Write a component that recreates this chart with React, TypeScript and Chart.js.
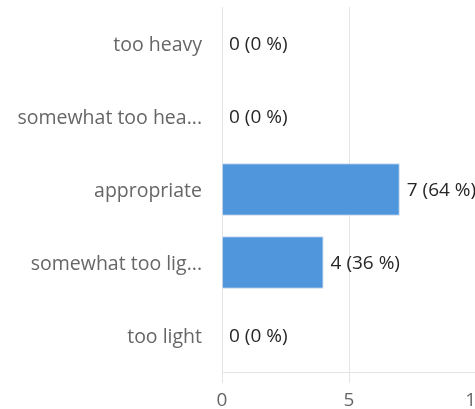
import React, { useEffect, useRef } from "react";
import { Chart, registerables } from "chart.js";

Chart.register(...registerables);

const categories = ["too heavy", "somewhat too hea...", "appropriate", "somewhat too lig...", "too light"];
const counts = [0, 0, 7, 4, 0];
const xTicks = [0, 5, 10];

const FONT = "'Open Sans', sans-serif";

const valueLabels = {
  id: "valueLabels",
  afterDatasetsDraw(chart: any) {
    const ctx = chart.ctx;
    const meta = chart.getDatasetMeta(0);
    const data = chart.data.datasets[0].data as number[];
    const total = data.reduce((a, b) => a + b, 0);
    ctx.save();
    ctx.font = `19px ${FONT}`;
    ctx.fillStyle = "#262626";
    ctx.textAlign = "left";
    ctx.textBaseline = "middle";
    meta.data.forEach((el: any, i: number) => {
      const v = data[i];
      const pct = total ? Math.round((v / total) * 100) : 0;
      ctx.fillText(`${v} (${pct} %)`, el.x + 7, el.y + 1);
    });
    ctx.restore();
  },
};

export default function App() {
  const ref = useRef<HTMLCanvasElement>(null);
  useEffect(() => {
    if (!ref.current) return;
    const chart = new Chart(ref.current, {
      type: "bar",
      data: {
        labels: categories,
        datasets: [
          {
            data: counts,
            backgroundColor: "#5096dc",
            borderColor: "#c8d8ea",
            borderWidth: 1,
          },
        ],
      },
      options: {
        indexAxis: "y",
        animation: false,
        responsive: true,
        maintainAspectRatio: false,
        layout: { padding: { top: 7, right: 24, left: 0, bottom: 0 } },
        plugins: { legend: { display: false }, tooltip: { enabled: false } },
        scales: {
          x: {
            min: 0,
            max: 10,
            afterBuildTicks: (scale: any) => {
              scale.ticks = xTicks.map((v) => ({ value: v }));
            },
            afterFit: (scale: any) => {
              scale.height = 37;
              scale.paddingLeft = 0;
              scale.paddingRight = 0;
            },
            grid: { color: "#e4e4e4", tickLength: 11 },
            border: { display: true, color: "#e4e4e4" },
            ticks: { color: "#666666", font: { family: FONT, size: 19 }, padding: 6 },
          },
          y: {
            afterFit: (scale: any) => {
              scale.width = 222;
              scale.paddingTop = 0;
              scale.paddingBottom = 0;
            },
            grid: { display: false },
            border: { display: false },
            ticks: { color: "#666666", font: { family: FONT, size: 19.5 }, padding: 12, labelOffset: 2 },
          },
        },
      },
      plugins: [valueLabels],
    });
    return () => chart.destroy();
  }, []);
  return (
    <div style={{ position: "fixed", left: 0, top: 0, width: 475, height: 409, overflow: "hidden", background: "#fff" }}>
      <div style={{ position: "absolute", left: 0, top: 0, width: 500, height: 409 }}>
        <canvas ref={ref} />
      </div>
    </div>
  );
}
